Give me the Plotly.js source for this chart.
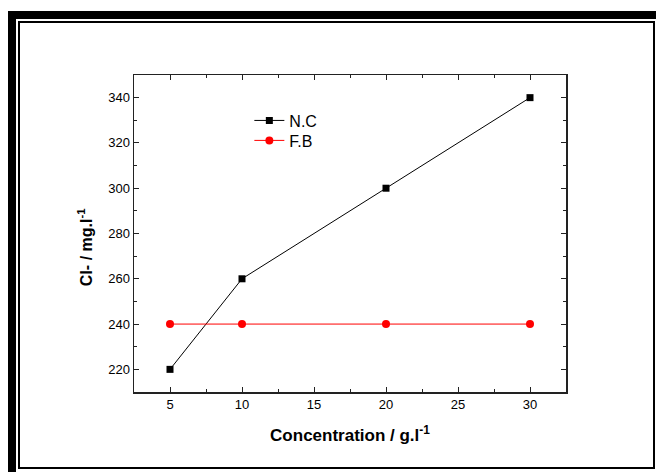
<!DOCTYPE html>
<html>
<head>
<meta charset="utf-8">
<script src="https://cdn.plot.ly/plotly-3.0.1.min.js"></script>
<style>
html,body{margin:0;padding:0;background:#fff;}
#wrap{position:relative;width:656px;height:472px;overflow:hidden;}
#chart{position:absolute;left:0;top:0;width:656px;height:472px;}
.frame{position:absolute;pointer-events:none;box-sizing:border-box;}
</style>
</head>
<body>
<div id="wrap">
<div id="chart"></div>
<div class="frame" style="left:8px;top:11px;width:650px;height:465px;border-top:8px solid #000;border-left:8px solid #000;border-right:2px solid #000;border-bottom:2px solid #000;"></div>
<div class="frame" style="left:18px;top:21px;width:637px;height:448px;border:2px solid #000;"></div>
</div>
<script>
const concentration = [5, 10, 20, 30];
const ncValues = [220, 260, 300, 340];
const fbValues = [240, 240, 240, 240];
const seriesNames = ["N.C", "F.B"];
const xTitle = "Concentration / g.l<sup>-1</sup>";
const yTitle = "Cl- / mg.l<sup>-1</sup>";

const traces = [
  {x: concentration, y: ncValues, name: seriesNames[0], type: "scatter", mode: "lines+markers", legend: "legend",
   line: {color: "#000", width: 1}, marker: {symbol: "square", size: 7, color: "#000"}},
  {x: concentration, y: fbValues, name: seriesNames[1], type: "scatter", mode: "lines+markers", legend: "legend2",
   line: {color: "#ff0000", width: 1}, marker: {symbol: "circle", size: 8, color: "#ff0000"}}
];

const FONT = "Arial, Liberation Sans, sans-serif";
const axisCommon = {
  showgrid: false, zeroline: false, showline: true, linecolor: "#222", linewidth: 1.5,
  mirror: "ticks", ticks: "inside", ticklen: 5, tickwidth: 1, tickcolor: "#222",
  tickfont: {family: FONT, size: 13, color: "#000"}
};
const legendCommon = {xanchor: "left", yanchor: "top", bgcolor: "rgba(0,0,0,0)",
  font: {family: FONT, size: 16, color: "#000"}};

const layout = {
  width: 656, height: 472,
  margin: {l: 134, r: 90, t: 75, b: 80, pad: 0},
  paper_bgcolor: "#fff", plot_bgcolor: "#fff",
  showlegend: true,
  legend: Object.assign({x: 0.267, y: 0.910}, legendCommon),
  legend2: Object.assign({x: 0.267, y: 0.847}, legendCommon),
  xaxis: Object.assign({}, axisCommon, {
    range: [2.5, 32.5], tick0: 5, dtick: 5,
    minor: {ticks: "inside", ticklen: 3, dtick: 2.5, tick0: 2.5, tickcolor: "#222"},
    title: {text: xTitle, standoff: 18, font: {family: FONT, size: 17, color: "#000", weight: "bold"}}
  }),
  yaxis: Object.assign({}, axisCommon, {
    range: [210, 350], tick0: 220, dtick: 20,
    minor: {ticks: "inside", ticklen: 3, dtick: 10, tick0: 210, tickcolor: "#222"}
  }),
  annotations: [{
    text: yTitle, xref: "paper", yref: "paper", x: -0.1134, y: 0.457,
    xanchor: "center", yanchor: "middle", textangle: -90, showarrow: false,
    font: {family: FONT, size: 16, color: "#000", weight: "bold"}
  }]
};

Plotly.newPlot("chart", traces, layout, {displayModeBar: false, staticPlot: true});
</script>
</body>
</html>
